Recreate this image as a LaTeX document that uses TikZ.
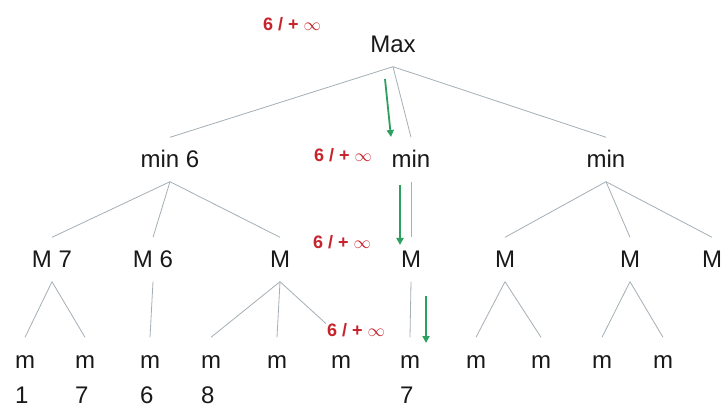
\documentclass[tikz,border=0pt]{standalone}
\usepackage{fontspec}
\setmainfont{Liberation Sans}
\usetikzlibrary{arrows.meta}
\definecolor{txt}{RGB}{25,25,25}
\definecolor{edgec}{RGB}{165,175,182}
\definecolor{labc}{RGB}{200,35,45}
\definecolor{grn}{RGB}{45,160,95}
\begin{document}
\begin{tikzpicture}[x=1pt,y=-1pt,
  lvl/.style={font=\fontsize{24}{24}\selectfont, text=txt, inner sep=0pt,
              text height=17pt, text depth=0pt, minimum height=44pt},
  num/.style={font=\fontsize{24}{24}\selectfont, text=txt, inner sep=0pt, anchor=base west},
  lab/.style={font=\fontsize{18}{18}\selectfont\bfseries, text=labc, inner sep=1pt},
  tree/.style={draw=edgec, line width=0.8pt},
  garrow/.style={draw=grn, line width=1.8pt, -{Triangle[width=7pt,length=7pt]}}]
\clip (0,0) rectangle (724,409);
\fill[white] (0,0) rectangle (724,409);
% level 1
\node[lvl] (max) at (393,44.5) {Max};
% level 2
\node[lvl] (n1) at (170,159.5) {min 6};
\node[lvl] (n2) at (411,159.5) {min};
\node[lvl] (n3) at (606,159.5) {min};
% level 3
\node[lvl] (a1) at (52,259.5) {M 7};
\node[lvl] (a2) at (153,259.5) {M 6};
\node[lvl] (a3) at (280,259.5) {M};
\node[lvl] (a4) at (411,259.5) {M};
\node[lvl] (a5) at (505,259.5) {M};
\node[lvl] (a6) at (630,259.5) {M};
\node[lvl] (a7) at (712,259.5) {M};
% level 4
\node[lvl] (b1) at (25,359.5) {m};
\node[lvl] (b2) at (85,359.5) {m};
\node[lvl] (b3) at (150,359.5) {m};
\node[lvl] (b4) at (211,359.5) {m};
\node[lvl] (b5) at (277,359.5) {m};
\node[lvl] (b6) at (341,359.5) {m};
\node[lvl] (b7) at (410,359.5) {m};
\node[lvl] (b8) at (476,359.5) {m};
\node[lvl] (b9) at (541,359.5) {m};
\node[lvl] (b10) at (602,359.5) {m};
\node[lvl] (b11) at (663,359.5) {m};
% values
\node[num] (v1) at (b1.west |- 0,403) {1};
\node[num] (v2) at (b2.west |- 0,403) {7};
\node[num] (v3) at (b3.west |- 0,403) {6};
\node[num] (v4) at (b4.west |- 0,403) {8};
\node[num] (v7) at (b7.west |- 0,403) {7};
% tree edges
\draw[tree] (max.south) -- (n1.north);
\draw[tree] (max.south) -- (n2.north);
\draw[tree] (max.south) -- (n3.north);
\draw[tree] (n1.south) -- (a1.north);
\draw[tree] (n1.south) -- (a2.north);
\draw[tree] (n1.south) -- (a3.north);
\draw[tree] (n2.south) -- (a4.north);
\draw[tree] (n3.south) -- (a5.north);
\draw[tree] (n3.south) -- (a6.north);
\draw[tree] (n3.south) -- (a7.north);
\draw[tree] (a1.south) -- (b1.north);
\draw[tree] (a1.south) -- (b2.north);
\draw[tree] (a2.south) -- (b3.north);
\draw[tree] (a3.south) -- (b4.north);
\draw[tree] (a3.south) -- (b5.north);
\draw[tree] (a3.south) -- (b6.north);
\draw[tree] (a4.south) -- (b7.north);
\draw[tree] (a5.south) -- (b8.north);
\draw[tree] (a5.south) -- (b9.north);
\draw[tree] (a6.south) -- (b10.north);
\draw[tree] (a6.south) -- (b11.north);
% bound labels
\node[lab] (l1) at (292,24) {6 / + {\mdseries$\infty$}};
\node[lab] (l2) at (343,155) {6 / + {\mdseries$\infty$}};
\node[lab] (l3) at (342,242) {6 / + {\mdseries$\infty$}};
\node[lab, fill=white] (l4) at (356,330) {6 / + {\mdseries$\infty$}};
% green arrows
\coordinate (g1s) at (385,79);
\coordinate (g1e) at (391,137);
\coordinate (g2s) at (400,185);
\coordinate (g2e) at (400,245);
\coordinate (g3s) at (426,296);
\coordinate (g3e) at (426,343);
\draw[garrow] (g1s) -- (g1e);
\draw[garrow] (g2s) -- (g2e);
\draw[garrow] (g3s) -- (g3e);
\end{tikzpicture}
\end{document}
